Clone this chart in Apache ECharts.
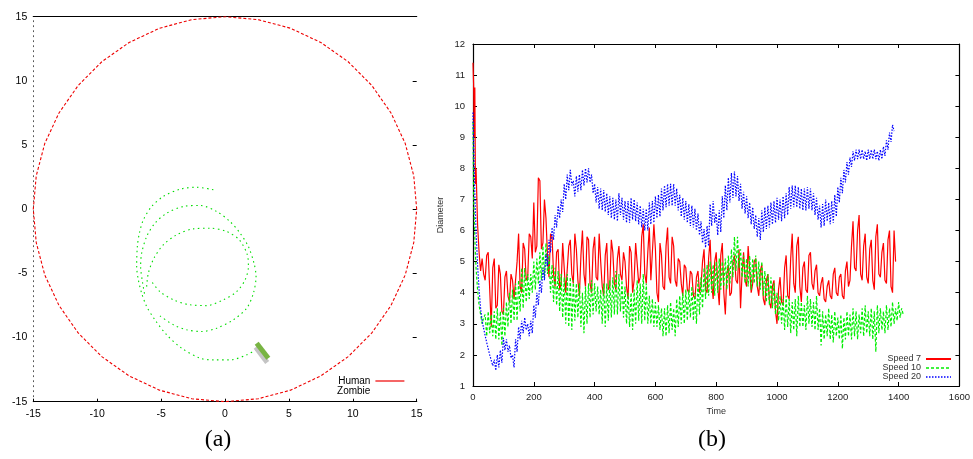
<!DOCTYPE html>
<html>
<head>
<meta charset="utf-8">
<script src="https://cdn.jsdelivr.net/npm/echarts@6/dist/echarts.min.js"></script>
<style>html,body{margin:0;padding:0;background:#fff;}#c{width:973px;height:459px;}</style>
</head>
<body>
<div id="c"></div>
<script>
// ---------- Panel (a): arena ----------
const humanX = [15,14.77,14.10,12.99,11.49,9.64,7.50,5.13,2.60,0,-2.60,-5.13,-7.50,-9.64,-11.49,-12.99,-14.10,-14.77,-15,-14.77,-14.10,-12.99,-11.49,-9.64,-7.50,-5.13,-2.60,0,2.60,5.13,7.50,9.64,11.49,12.99,14.10,14.77,15];
const humanY = [0,2.60,5.13,7.50,9.64,11.49,12.99,14.10,14.77,15,14.77,14.10,12.99,11.49,9.64,7.50,5.13,2.60,0,-2.60,-5.13,-7.50,-9.64,-11.49,-12.99,-14.10,-14.77,-15,-14.77,-14.10,-12.99,-11.49,-9.64,-7.50,-5.13,-2.60,0];

const zombieX = [-0.91,-2.22,-3.52,-4.83,-5.74,-6.39,-6.70,-6.86,-6.91,-6.78,-6.52,-6.13,-5.48,-4.56,-3.39,-1.96,-0.91,0.39,1.70,2.61, null,
  -5.09,-4.04,-3.0,-1.83,-0.65,0.65,1.70,2.22,2.43,2.27,1.83,1.18,0.39,-0.65,-1.96,-3.26,-4.56,-5.48,-6.13,-6.52,-6.60,-6.44,-6.26, null,
  -6.13,-6.0,-5.56,-4.83,-3.78,-2.48,-1.17,0.13,1.12,1.75,1.83,1.57,0.91,-0.13,-1.43,-2.74,-4.04,-5.09,-5.74];
const zombieY = [1.51,1.71,1.56,0.99,0.21,-0.83,-1.87,-2.91,-4.47,-5.51,-6.55,-7.58,-8.62,-9.79,-10.83,-11.61,-11.74,-11.74,-11.35,-10.83, null,
  -8.31,-9.01,-9.40,-9.53,-9.27,-8.62,-7.71,-6.55,-5.25,-4.21,-2.91,-1.87,-0.96,-0.18,0.29,0.21,-0.31,-1.09,-2.13,-3.43,-4.47,-5.77,-6.81, null,
  -6.03,-4.99,-3.82,-2.78,-2.0,-1.53,-1.48,-1.74,-2.39,-3.56,-4.47,-5.51,-6.42,-7.06,-7.51,-7.45,-7.06,-6.42,-5.64];

const crowdX = [2.48, 3.39];
const crowdY = [-10.44, -11.61];
const shadowX = [2.40, 3.30];
const shadowY = [-10.75, -11.95];

const arenaTicks = [-15,-10,-5,0,5,10,15];

// ---------- Panel (b): diameter over time ----------
const times = [0,2,4,6,8,10,15,20,25,30,35,
 40,45,50,55,60,65,70,75,80,85,90,95,100,105,110,115,120,125,130,135,
 140,145,150,155,160,165,170,175,180,185,190,195,200,205,210,215,220,225,230,235,
 240,245,250,255,260,265,270,275,280,285,290,295,300,305,310,315,320,325,330,335,
 340,345,350,355,360,365,370,375,380,385,390,395,400,405,410,415,420,425,430,435,
 440,445,450,455,460,465,470,475,480,485,490,495,500,505,510,515,520,525,530,535,
 540,545,550,555,560,565,570,575,580,585,590,595,600,605,610,615,620,625,630,635,
 640,645,650,655,660,665,670,675,680,685,690,695,700,705,710,715,720,725,730,735,
 740,745,750,755,760,765,770,775,780,785,790,795,800,805,810,815,820,825,830,835,
 840,845,850,855,860,865,870,875,880,885,890,895,900,905,910,915,920,925,930,935,
 940,945,950,955,960,965,970,975,980,985,990,995,1000,1005,1010,1015,1020,1025,1030,1035,
 1040,1045,1050,1055,1060,1065,1070,1075,1080,1085,1090,1095,1100,1105,1110,1115,1120,1125,1130,1135,
 1140,1145,1150,1155,1160,1165,1170,1175,1180,1185,1190,1195,1200,1205,1210,1215,1220,1225,1230,1235,
 1240,1245,1250,1255,1260,1265,1270,1275,1280,1285,1290,1295,1300,1305,1310,1315,1320,1325,1330,1335,
 1340,1345,1350,1355,1360,1365,1370,1375,1380,1385,1390,1395,1400,1405,1410,1415];

const speed7 = [11.4,10.7,9.0,10.6,7.5,8.0,6.2,5.3,4.7,5.1,4.6,
 4.4,5.2,5.3,4.1,2.9,4.8,5.1,3.5,3.6,4.9,4.6,3.4,3.3,4.5,4.7,3.9,3.7,4.6,4.4,3.8,
 3.8,5.0,5.9,4.2,4.0,5.6,5.4,4.4,4.5,5.9,5.8,5.1,6.9,5.3,5.5,7.7,7.6,5.4,5.6,7.0,
 6.4,5.2,4.5,5.9,5.8,4.6,4.2,5.3,5.4,4.1,4.3,5.6,5.6,4.0,4.0,5.5,5.7,4.6,4.3,5.9,
 5.4,4.4,3.9,5.2,6.0,4.6,4.2,5.8,5.7,4.3,4.0,5.4,5.8,4.5,4.4,5.9,5.0,4.2,3.9,5.2,
 5.6,4.1,4.2,5.7,5.3,4.3,4.1,5.1,5.5,4.6,4.4,5.3,5.0,4.2,3.8,5.5,5.3,4.0,4.4,5.6,
 5.6,4.3,4.5,5.8,6.2,4.6,4.3,5.3,6.1,4.4,4.4,6.2,5.4,4.0,3.7,5.6,5.2,4.2,4.1,5.5,
 6.1,4.5,4.3,5.8,5.5,4.4,4.2,5.1,5.0,4.3,3.9,4.9,4.8,4.1,4.0,4.7,4.6,3.9,3.8,4.5,
 4.7,4.0,4.2,5.0,5.4,4.1,4.0,5.1,5.7,4.3,3.8,5.0,5.3,4.2,3.6,5.2,5.6,4.0,3.3,4.6,
 4.9,3.9,4.0,5.0,5.2,4.4,4.3,5.4,3.5,4.6,5.3,4.4,4.2,5.5,5.5,4.0,4.3,5.0,5.1,4.2,
 3.9,4.7,4.9,3.8,3.6,4.4,4.6,3.7,3.5,4.2,4.4,3.4,3.0,4.1,4.5,3.7,3.6,4.8,5.2,3.9,
 3.8,5.1,5.9,4.3,4.0,5.5,5.8,4.2,3.7,4.8,5.0,4.1,4.0,5.2,5.3,4.3,4.1,4.7,4.9,4.0,
 3.9,4.3,4.5,3.8,3.7,4.2,4.4,3.9,3.8,4.6,4.8,4.0,3.9,4.5,4.6,3.9,3.8,4.7,5.0,4.2,
 4.4,5.5,6.3,4.8,4.7,6.0,6.5,4.6,4.4,5.5,5.9,4.5,4.3,5.4,5.7,4.4,4.1,5.8,6.2,4.6,
 4.5,5.3,5.6,4.4,4.3,5.7,6.0,4.2,4.0,6.0,5.0];

const speed10 = [9.5,7.0,6.5,5.8,5.2,4.8,4.1,3.6,3.3,3.0,3.2,
 3.3,2.6,3.4,2.7,3.3,2.6,3.4,2.5,3.5,2.5,3.4,2.3,3.5,2.6,3.7,2.9,4.0,3.0,4.1,3.1,
 4.3,3.1,4.4,3.4,4.8,3.5,4.8,3.7,4.6,3.8,4.6,4.0,5.0,4.1,5.1,4.3,5.3,4.4,5.5,4.5,
 5.6,4.6,5.2,4.0,4.9,3.7,4.8,3.6,4.7,3.4,4.6,3.2,4.5,3.0,4.6,2.9,4.5,2.8,4.4,3.1,
 4.3,3.2,4.3,2.9,4.0,2.7,4.2,3.0,4.3,3.2,4.4,3.3,4.3,3.4,4.2,3.3,4.1,3.0,4.3,2.9,
 4.3,3.1,4.4,3.2,4.5,3.3,4.7,3.3,4.6,3.4,4.4,3.2,4.2,3.0,4.0,2.9,4.0,2.8,4.1,3.0,
 4.4,3.1,4.3,3.0,4.6,3.1,4.3,3.0,3.9,3.0,3.8,2.9,3.7,2.9,3.6,2.8,3.5,2.6,3.5,2.6,
 3.6,2.7,3.7,2.8,3.5,2.6,3.8,2.9,3.9,3.0,4.0,3.0,4.1,3.1,4.1,3.2,4.2,3.1,4.0,3.0,
 4.4,3.3,4.5,3.5,4.8,3.8,4.9,3.9,5.0,4.0,4.9,3.9,5.0,4.0,5.1,4.1,5.0,4.2,5.1,4.1,
 5.2,4.3,5.4,4.5,5.8,4.7,5.8,4.8,5.4,4.5,5.2,4.3,5.1,4.2,5.2,4.1,5.1,4.3,5.2,4.2,
 5.0,4.1,5.0,3.9,4.7,3.7,4.6,3.6,4.5,3.5,4.3,3.3,4.0,3.1,3.9,3.0,3.8,2.8,3.9,2.9,
 3.8,2.7,3.7,2.8,3.8,2.6,3.9,2.9,3.7,2.9,3.6,2.8,3.9,3.0,3.8,2.9,3.7,2.8,3.9,2.8,
 3.5,2.3,3.4,2.5,3.3,2.6,3.5,2.5,3.3,2.4,3.4,2.6,3.2,2.5,3.3,2.2,3.2,2.5,3.4,2.6,
 3.3,2.5,3.5,2.6,3.4,2.5,3.3,2.7,3.5,2.6,3.6,2.7,3.4,2.6,3.5,2.5,3.4,2.1,3.6,2.7,
 3.5,2.8,3.4,2.7,3.6,2.8,3.5,2.9,3.7,3.0,3.5,3.1,3.7,3.2,3.5,3.3];

const speed20 = [9.8,8.8,8.0,7.2,6.6,6.0,4.9,4.1,3.5,3.1,2.85,
 2.8,2.4,2.4,2.0,2.05,1.65,1.85,1.5,2.0,1.6,2.15,1.75,2.55,2.15,2.5,2.1,2.3,1.9,2.0,1.6,
 2.5,2.1,2.9,2.5,3.1,2.7,3.2,2.8,3.0,2.6,3.1,2.7,3.6,3.2,4.0,3.6,4.4,4.0,4.8,4.4,
 5.25,4.85,5.7,5.3,6.1,5.7,6.5,6.1,6.8,6.4,7.0,6.6,7.5,7.0,7.8,7.3,7.95,7.45,7.6,7.1,
 7.75,7.25,7.8,7.3,7.95,7.45,8.0,7.55,8.0,7.55,7.8,7.2,7.5,6.9,7.4,6.7,7.35,6.65,7.3,6.6,
 7.2,6.5,7.1,6.4,7.05,6.35,7.0,6.3,7.2,6.5,7.05,6.35,6.95,6.25,6.95,6.25,7.05,6.35,7.0,6.3,
 6.9,6.2,6.8,6.1,6.7,6.0,6.7,6.0,6.9,6.2,6.95,6.25,7.1,6.4,7.15,6.45,7.35,6.65,7.45,6.75,
 7.5,6.8,7.5,6.8,7.5,6.8,7.35,6.65,7.15,6.45,7.05,6.35,6.95,6.25,6.85,6.15,6.8,6.1,6.7,6.0,
 6.55,5.85,6.3,5.6,6.05,5.45,6.15,5.5,6.85,6.15,6.95,6.25,6.55,5.85,6.65,5.95,7.1,6.4,7.45,6.65,
 7.7,6.9,7.85,7.05,7.9,7.1,7.75,6.95,7.5,6.7,7.25,6.55,7.1,6.4,6.9,6.2,6.75,6.05,6.5,5.8,
 6.4,5.7,6.65,5.95,6.75,6.05,6.8,6.1,6.9,6.2,6.95,6.25,7.05,6.35,7.0,6.3,7.1,6.4,7.2,6.5,
 7.4,6.7,7.45,6.75,7.45,6.75,7.4,6.7,7.35,6.65,7.35,6.65,7.4,6.7,7.35,6.65,7.2,6.5,7.05,6.35,
 6.8,6.1,6.85,6.15,7.0,6.3,6.9,6.2,6.95,6.25,7.15,6.45,7.4,6.9,7.7,7.2,7.95,7.55,8.2,7.8,
 8.35,8.05,8.55,8.25,8.6,8.3,8.6,8.3,8.6,8.3,8.55,8.25,8.6,8.3,8.6,8.3,8.6,8.3,8.55,8.25,
 8.6,8.3,8.7,8.4,8.9,8.6,9.15,8.85,9.4,9.2];

const timeTicks = [0,200,400,600,800,1000,1200,1400,1600];
const diamTicks = [1,2,3,4,5,6,7,8,9,10,11,12];

// ---------- build ----------
function pairs(xs, ys) { return xs.map((x, i) => (x === null ? [null, null] : [x, ys[i]])); }
function series(vals) { return vals.map((v, i) => [times[i], v]); }

const FONT = 'Liberation Sans, Arial, sans-serif';
const chart = echarts.init(document.getElementById('c'), null, {renderer: 'canvas'});
const plain = v => String(v);

const option = {
  animation: false,
  backgroundColor: '#fff',
  grid: [
    {left: 33.3, right: 556.3, top: 16.7, bottom: 57.3},
    {left: 473, right: 10, top: 44, bottom: 73}
  ],
  xAxis: [
    {gridIndex: 0, type: 'value', position: 'bottom', min: arenaTicks[0], max: arenaTicks[arenaTicks.length-1], interval: 5,
     axisLine: {onZero: false, lineStyle: {color: '#000', width: 1.2}}, axisTick: {inside: true, length: 3, lineStyle: {color: '#000'}},
     axisLabel: {fontSize: 10.5, color: '#000', fontFamily: FONT, margin: 7, formatter: plain}, splitLine: {show: false}},
    {gridIndex: 0, type: 'value', position: 'top', min: -15, max: 15, interval: 5,
     axisLine: {onZero: false, lineStyle: {color: '#000', width: 1.2}}, axisTick: {show: false}, axisLabel: {show: false}, splitLine: {show: false}},
    {gridIndex: 1, type: 'value', position: 'bottom', min: timeTicks[0], max: timeTicks[timeTicks.length-1], interval: 200,
     name: 'Time', nameLocation: 'middle', nameGap: 18, nameTextStyle: {fontSize: 9, color: '#333', fontFamily: FONT},
     axisLine: {onZero: false, lineStyle: {color: '#000', width: 1.2}}, axisTick: {inside: true, length: 4, lineStyle: {color: '#000'}},
     axisLabel: {fontSize: 9.5, color: '#222', fontFamily: FONT, margin: 6, formatter: plain}, splitLine: {show: false}},
    {gridIndex: 1, type: 'value', position: 'top', min: 0, max: 1600, interval: 200,
     axisLine: {onZero: false, lineStyle: {color: '#000', width: 1.2}}, axisTick: {inside: true, length: 4, lineStyle: {color: '#000'}},
     axisLabel: {show: false}, splitLine: {show: false}}
  ],
  yAxis: [
    {gridIndex: 0, type: 'value', position: 'left', min: -15, max: 15, interval: 5,
     axisLine: {show: true, onZero: false, lineStyle: {color: '#555', type: [1, 4], width: 1}}, axisTick: {show: false},
     axisLabel: {fontSize: 10.5, color: '#000', fontFamily: FONT, margin: 6, formatter: plain}, splitLine: {show: false}},
    {gridIndex: 0, type: 'value', position: 'right', min: -15, max: 15, interval: 5,
     axisLine: {show: false, onZero: false}, axisTick: {show: true, inside: true, length: 4, lineStyle: {color: '#000'}},
     axisLabel: {show: false}, splitLine: {show: false}},
    {gridIndex: 1, type: 'value', position: 'left', min: diamTicks[0], max: diamTicks[diamTicks.length-1], interval: 1,
     name: 'Diameter', nameLocation: 'middle', nameRotate: 90, nameGap: 28, nameTextStyle: {fontSize: 9, color: '#333', fontFamily: FONT},
     axisLine: {show: true, onZero: false, lineStyle: {color: '#000', width: 1.2}}, axisTick: {inside: true, length: 4, lineStyle: {color: '#000'}},
     axisLabel: {fontSize: 9.5, color: '#222', fontFamily: FONT, margin: 8, formatter: plain}, splitLine: {show: false}},
    {gridIndex: 1, type: 'value', position: 'right', min: 1, max: 12, interval: 1,
     axisLine: {show: true, onZero: false, lineStyle: {color: '#000', width: 1.2}}, axisTick: {inside: true, length: 4, lineStyle: {color: '#000'}},
     axisLabel: {show: false}, splitLine: {show: false}}
  ],
  legend: [
    {data: [{name: 'Human', lineStyle: {type: 'solid', width: 1.2}}, {name: 'Zombie', icon: 'none'}],
     orient: 'vertical', align: 'right', right: 568, top: 376, itemWidth: 29, itemHeight: 10, itemGap: 0, padding: 0,
     itemStyle: {opacity: 0}, textStyle: {fontSize: 10, color: '#000', fontFamily: FONT}},
    {data: [{name: 'Speed 7', lineStyle: {width: 2}}, {name: 'Speed 10', lineStyle: {width: 1.6}}, {name: 'Speed 20', lineStyle: {width: 1.6}}],
     orient: 'vertical', align: 'right', right: 21, top: 354.5, itemWidth: 25, itemHeight: 9, itemGap: 0, padding: 0,
     itemStyle: {opacity: 0}, textStyle: {fontSize: 9, color: '#333', fontFamily: FONT}}
  ],
  series: [
    {name: 'Human', type: 'line', xAxisIndex: 0, yAxisIndex: 0, data: pairs(humanX, humanY), showSymbol: false, symbol: 'none',
     lineStyle: {color: '#ee0000', width: 1.1, type: [3, 2]}, itemStyle: {color: '#ee0000'}},
    {name: 'Zombie', type: 'line', xAxisIndex: 0, yAxisIndex: 0, data: pairs(zombieX, zombieY), showSymbol: false, symbol: 'none',
     connectNulls: false, smooth: 0.3, lineStyle: {color: '#00dd00', width: 1.1, type: [1.5, 3.5]}, itemStyle: {color: '#00dd00'}},
    {name: 'crowdShadow', type: 'line', xAxisIndex: 0, yAxisIndex: 0, data: pairs(shadowX, shadowY), showSymbol: false, symbol: 'none',
     lineStyle: {color: '#c4c4c4', width: 5}, silent: true},
    {name: 'crowd', type: 'line', xAxisIndex: 0, yAxisIndex: 0, data: pairs(crowdX, crowdY), showSymbol: false, symbol: 'none',
     lineStyle: {color: '#78b443', width: 5}, silent: true},

    {name: 'Speed 7', type: 'line', xAxisIndex: 2, yAxisIndex: 2, data: series(speed7), showSymbol: false, symbol: 'none',
     lineStyle: {color: '#ff0000', width: 1.2}, itemStyle: {color: '#ff0000'}},
    {name: 'Speed 10', type: 'line', xAxisIndex: 2, yAxisIndex: 2, data: series(speed10), showSymbol: false, symbol: 'none',
     lineStyle: {color: '#00ee00', width: 1.2, type: [3, 2]}, itemStyle: {color: '#00ee00'}},
    {name: 'Speed 20', type: 'line', xAxisIndex: 2, yAxisIndex: 2, data: series(speed20), showSymbol: false, symbol: 'none',
     lineStyle: {color: '#0000ff', width: 1.2, type: [1.5, 1.5]}, itemStyle: {color: '#0000ff'}}
  ],
  graphic: [
    {type: 'text', style: {text: '(a)', x: 218, y: 440, textAlign: 'center', textVerticalAlign: 'middle',
      font: '24px "Liberation Serif", "DejaVu Serif", serif', fill: '#000'}},
    {type: 'text', style: {text: '(b)', x: 712, y: 440, textAlign: 'center', textVerticalAlign: 'middle',
      font: '24px "Liberation Serif", "DejaVu Serif", serif', fill: '#000'}}
  ]
};
chart.setOption(option);
</script>
</body>
</html>
